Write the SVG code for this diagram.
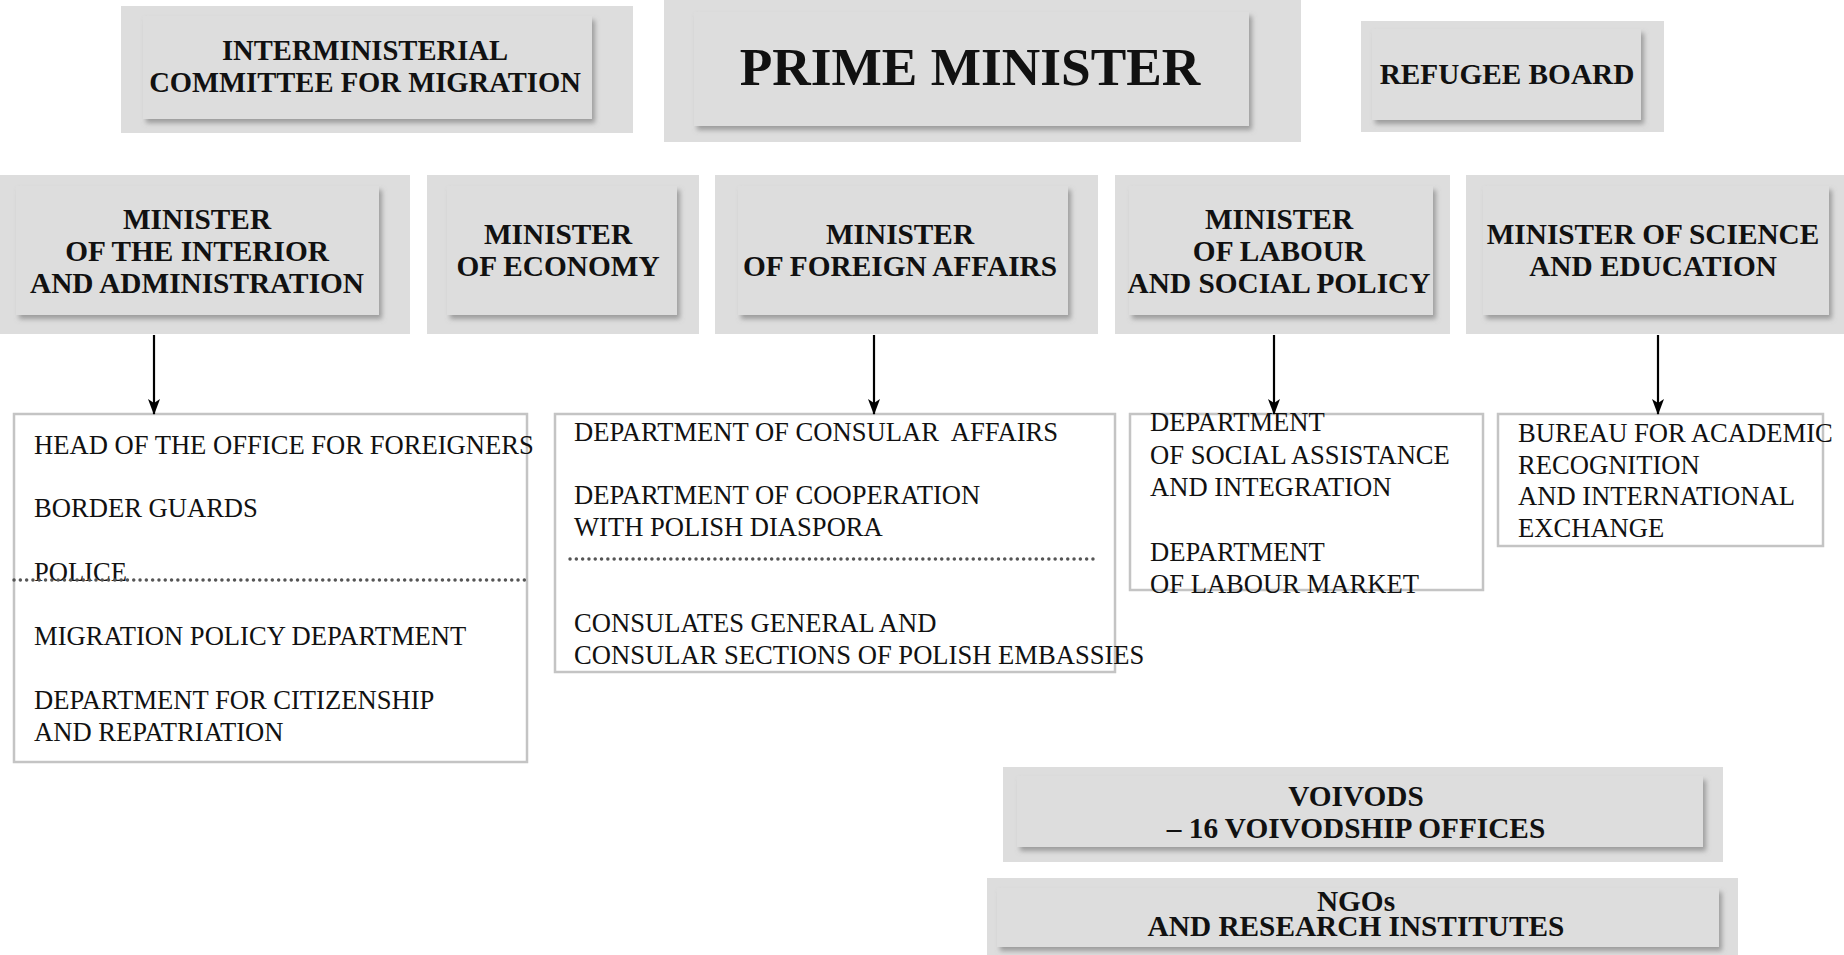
<svg xmlns="http://www.w3.org/2000/svg" width="1844" height="955" viewBox="0 0 1844 955">
<defs>
<filter id="sh" x="-5%" y="-10%" width="115%" height="130%">
<feDropShadow dx="3" dy="4" stdDeviation="2.5" flood-color="#707070" flood-opacity="0.6"/>
</filter>
<marker id="ah" viewBox="0 0 16 12" refX="15" refY="6" markerWidth="16" markerHeight="12" markerUnits="userSpaceOnUse" orient="auto">
<path d="M0,0 L16,6 L0,12 L4,6 Z" fill="#000"/>
</marker>
</defs>
<style>
.outer{fill:#dddddd}
.inner{fill:#dddddd;filter:url(#sh)}
.b{font-family:"Liberation Serif","Times New Roman",serif;font-weight:bold;font-size:29.3px;fill:#111;text-anchor:middle}
.t{font-size:28.6px}
.pm{font-size:53.3px}
.r{font-family:"Liberation Serif","Times New Roman",serif;font-size:26.6px;fill:#111}
.sub{fill:#fff;stroke:#c4c4c4;stroke-width:2.5}
.dot{stroke:#555;stroke-width:3.4;stroke-dasharray:0.1 6.2;stroke-linecap:round;fill:none}
.con{stroke:#000;stroke-width:2.2;fill:none}
</style>
<rect width="1844" height="955" fill="#fff"/>

<g id="interministerial">
<rect class="outer" x="121" y="6" width="512" height="127"/>
<rect class="inner" x="143" y="16" width="449" height="103"/>
<text class="b t" x="365" y="60">INTERMINISTERIAL</text>
<text class="b t" x="365" y="92">COMMITTEE FOR MIGRATION</text>
</g>

<g id="prime-minister">
<rect class="outer" x="664" y="0" width="637" height="142"/>
<rect class="inner" x="694" y="12" width="555" height="114"/>
<text class="b pm" x="970" y="85">PRIME MINISTER</text>
</g>

<g id="refugee-board">
<rect class="outer" x="1361" y="21" width="303" height="111"/>
<rect class="inner" x="1372" y="29" width="269" height="91"/>
<text class="b" x="1507" y="84">REFUGEE BOARD</text>
</g>

<g id="min-interior">
<rect class="outer" x="0" y="175" width="410" height="159"/>
<rect class="inner" x="16" y="186" width="363" height="129"/>
<text class="b" x="197" y="229">MINISTER</text>
<text class="b" x="197" y="261">OF THE INTERIOR</text>
<text class="b" x="197" y="293">AND ADMINISTRATION</text>
</g>

<g id="min-economy">
<rect class="outer" x="427" y="175" width="272" height="159"/>
<rect class="inner" x="447" y="186" width="230" height="129"/>
<text class="b" x="558" y="244">MINISTER</text>
<text class="b" x="558" y="276">OF ECONOMY</text>
</g>

<g id="min-foreign">
<rect class="outer" x="715" y="175" width="383" height="159"/>
<rect class="inner" x="738" y="186" width="330" height="129"/>
<text class="b" x="900" y="244">MINISTER</text>
<text class="b" x="900" y="276">OF FOREIGN AFFAIRS</text>
</g>

<g id="min-labour">
<rect class="outer" x="1115" y="175" width="335" height="159"/>
<rect class="inner" x="1129" y="186" width="304" height="129"/>
<text class="b" x="1279" y="229">MINISTER</text>
<text class="b" x="1279" y="261">OF LABOUR</text>
<text class="b" x="1279" y="293">AND SOCIAL POLICY</text>
</g>

<g id="min-science">
<rect class="outer" x="1466" y="175" width="378" height="159"/>
<rect class="inner" x="1483" y="186" width="346" height="129"/>
<text class="b" x="1653" y="244">MINISTER OF SCIENCE</text>
<text class="b" x="1653" y="276">AND EDUCATION</text>
</g>

<g id="sub-interior">
<rect class="sub" x="14" y="414" width="513" height="348"/>
<text class="r" x="34" y="454">HEAD OF THE OFFICE FOR FOREIGNERS</text>
<text class="r" x="34" y="517">BORDER GUARDS</text>
<text class="r" x="34" y="581">POLICE</text>
<line class="dot" x1="14" y1="580" x2="530" y2="580"/>
<text class="r" x="34" y="645">MIGRATION POLICY DEPARTMENT</text>
<text class="r" x="34" y="709">DEPARTMENT FOR CITIZENSHIP</text>
<text class="r" x="34" y="741">AND REPATRIATION</text>
</g>

<g id="sub-foreign">
<rect class="sub" x="555" y="414" width="560" height="258"/>
<text class="r" x="574" y="441" xml:space="preserve">DEPARTMENT OF CONSULAR  AFFAIRS</text>
<text class="r" x="574" y="504">DEPARTMENT OF COOPERATION</text>
<text class="r" x="574" y="536">WITH POLISH DIASPORA</text>
<line class="dot" x1="570" y1="559" x2="1094" y2="559"/>
<text class="r" x="574" y="632">CONSULATES GENERAL AND</text>
<text class="r" x="574" y="664">CONSULAR SECTIONS OF POLISH EMBASSIES</text>
</g>

<g id="sub-labour">
<rect class="sub" x="1130" y="414" width="353" height="176"/>
<text class="r" x="1150" y="431">DEPARTMENT</text>
<text class="r" x="1150" y="464">OF SOCIAL ASSISTANCE</text>
<text class="r" x="1150" y="496">AND INTEGRATION</text>
<text class="r" x="1150" y="561">DEPARTMENT</text>
<text class="r" x="1150" y="593">OF LABOUR MARKET</text>
</g>

<g id="sub-science">
<rect class="sub" x="1498" y="414" width="325" height="132"/>
<text class="r" x="1518" y="442">BUREAU FOR ACADEMIC</text>
<text class="r" x="1518" y="474">RECOGNITION</text>
<text class="r" x="1518" y="505">AND INTERNATIONAL</text>
<text class="r" x="1518" y="537">EXCHANGE</text>
</g>

<g id="voivods">
<rect class="outer" x="1003" y="767" width="720" height="95"/>
<rect class="inner" x="1017" y="776" width="686" height="71"/>
<text class="b" x="1356" y="806">VOIVODS</text>
<text class="b" x="1356" y="838">– 16 VOIVODSHIP OFFICES</text>
</g>

<g id="ngos">
<rect class="outer" x="987" y="878" width="751" height="77"/>
<rect class="inner" x="997" y="888" width="722" height="59"/>
<text class="b" x="1356" y="911">NGOs</text>
<text class="b" x="1356" y="936">AND RESEARCH INSTITUTES</text>
</g>

<g id="connectors">
<line class="con" x1="154" y1="335" x2="154" y2="414" marker-end="url(#ah)"/>
<line class="con" x1="874" y1="335" x2="874" y2="414" marker-end="url(#ah)"/>
<line class="con" x1="1274" y1="335" x2="1274" y2="414" marker-end="url(#ah)"/>
<line class="con" x1="1658" y1="335" x2="1658" y2="414" marker-end="url(#ah)"/>
</g>
</svg>
